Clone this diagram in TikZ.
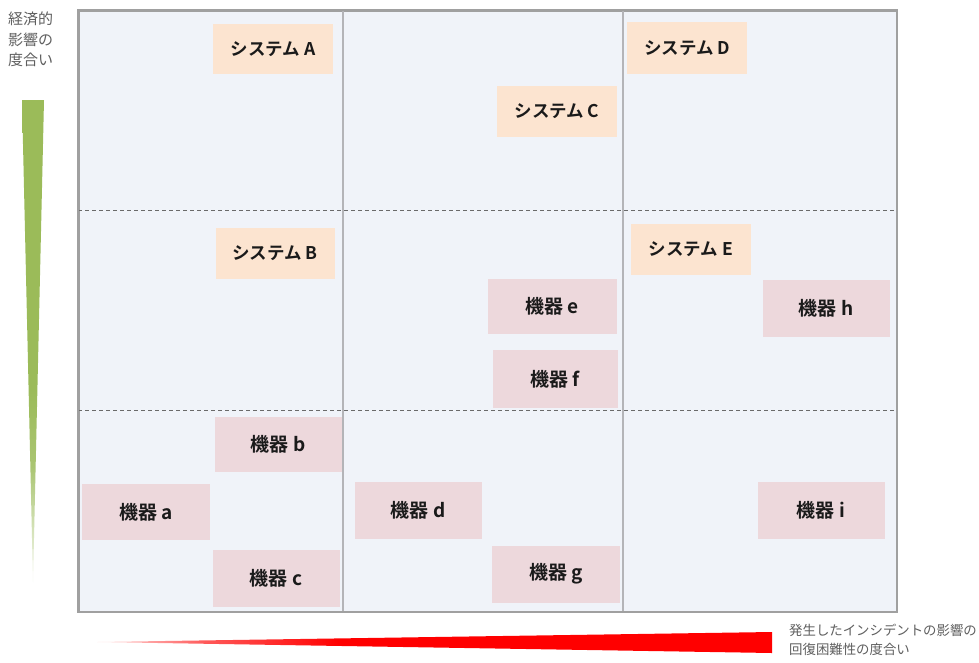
\documentclass[tikz,border=0pt]{standalone}
\usepackage{fontspec}
\newfontfamily\cjk{Noto Sans CJK JP}
\newfontfamily\cjkb{Noto Sans CJK JP Bold}
\definecolor{framebg}{HTML}{F0F3F9}
\definecolor{framegray}{HTML}{A0A0A0}
\definecolor{divgray}{HTML}{B4B4B8}
\definecolor{dashgray}{HTML}{6A6A6A}
\definecolor{syscol}{HTML}{FCE4D0}
\definecolor{devcol}{HTML}{EDD8DC}
\definecolor{txtdark}{HTML}{1A1A1A}
\definecolor{axistxt}{HTML}{5F5F5F}
\definecolor{axgreen}{HTML}{9BBB59}
\definecolor{axred}{HTML}{FF0000}
\pgfdeclareverticalshading{greenfade}{100bp}{color(0bp)=(axgreen!5); color(25bp)=(axgreen!8); color(37bp)=(axgreen!85); color(45bp)=(axgreen); color(100bp)=(axgreen)}
\pgfdeclarehorizontalshading{redfade}{100bp}{color(0bp)=(axred!8); color(25bp)=(axred!10); color(33bp)=(axred!65); color(43bp)=(axred); color(100bp)=(axred)}
\begin{document}
\begin{tikzpicture}[x=1pt,y=-1pt,
  box/.style={inner sep=0pt, outer sep=0pt, text=txtdark},
  sysbox/.style={box, fill=syscol, font=\cjkb\fontsize{17.5}{20}\selectfont},
  devbox/.style={box, fill=devcol, font=\cjkb\fontsize{19}{22}\selectfont},
  axislabel/.style={inner sep=0pt, align=left, anchor=north west, text=axistxt}]
\useasboundingbox (0,0) rectangle (979,662);
\fill[white] (0,0) rectangle (979,662);
% frame
\node[draw=framegray, line width=1.5pt, fill=framebg, minimum width=818pt, minimum height=601pt, inner sep=0pt, anchor=north west] (frame) at (78,10) {};
% dividers
\coordinate (v1t) at (343,10); \coordinate (v1b) at (343,611);
\coordinate (v2t) at (623,10); \coordinate (v2b) at (623,611);
\coordinate (h1l) at (78,210); \coordinate (h1r) at (896,210);
\coordinate (h2l) at (78,410); \coordinate (h2r) at (896,410);
\draw[divgray, line width=1.6pt] (v1t) -- (v1b);
\draw[divgray, line width=1.6pt] (v2t) -- (v2b);
\draw[dashgray, line width=1pt, dash pattern=on 4pt off 3pt] (h1l) -- (h1r);
\draw[dashgray, line width=1pt, dash pattern=on 4pt off 3pt] (h2l) -- (h2r);
\draw[framegray, line width=1.5pt] (frame.north west) rectangle (frame.south east);
% systems
\node[sysbox, minimum width=120pt, minimum height=50pt] (sA) at (273,49) {システム A};
\node[sysbox, minimum width=120pt, minimum height=52pt] (sD) at (687,48) {システム D};
\node[sysbox, minimum width=120pt, minimum height=51pt] (sC) at (557,111) {システム C};
\node[sysbox, minimum width=119pt, minimum height=51pt] (sB) at (275,253) {システム B};
\node[sysbox, minimum width=120pt, minimum height=51pt] (sE) at (691,249) {システム E};
% devices
\node[devbox, minimum width=129pt, minimum height=55pt] (de) at (552,306) {機器 e};
\node[devbox, minimum width=125pt, minimum height=58pt] (df) at (555,379) {機器 f};
\node[devbox, minimum width=127pt, minimum height=57pt] (dh) at (826,308) {機器 h};
\node[devbox, minimum width=127pt, minimum height=55pt] (db) at (278,444) {機器 b};
\node[devbox, minimum width=128pt, minimum height=56pt] (da) at (146,512) {機器 a};
\node[devbox, minimum width=127pt, minimum height=57pt] (dc) at (276,578) {機器 c};
\node[devbox, minimum width=127pt, minimum height=57pt] (dd) at (418,510) {機器 d};
\node[devbox, minimum width=128pt, minimum height=57pt] (dg) at (556,574) {機器 g};
\node[devbox, minimum width=127pt, minimum height=57pt] (di) at (821,510) {機器 i};
% axes
\shade[shading=greenfade] (22,100) -- (44,100) -- (33,582) -- cycle;
\shade[shading=redfade] (97,642) -- (772,632) -- (772,653) -- cycle;
\node[axislabel, font=\cjk\fontsize{15}{20.5}\selectfont] (ylab) at (8,12) {経済的\\影響の\\度合い};
\node[axislabel, font=\cjk\fontsize{13.4}{19}\selectfont] (xlab) at (789,624) {発生したインシデントの影響の\\回復困難性の度合い};
\end{tikzpicture}
\end{document}
